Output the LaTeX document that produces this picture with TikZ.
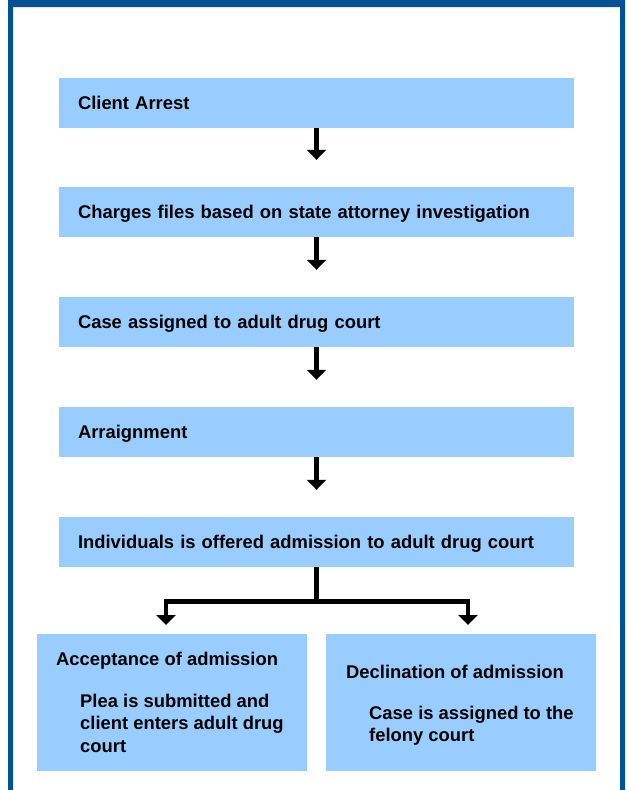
\documentclass[tikz,border=0pt]{standalone}
\usepackage{fontspec}
\setmainfont{Liberation Sans}
\usetikzlibrary{arrows.meta}
\definecolor{framecol}{RGB}{5,81,150}
\definecolor{boxcol}{RGB}{153,204,255}
\begin{document}
\begin{tikzpicture}[x=1pt,y=-1pt,
  every node/.style={font=\bfseries\fontsize{18.4}{22.5}\selectfont},
  stepbox/.style={fill=boxcol, draw=none, minimum width=515pt, minimum height=50pt,
    text width=477pt, inner xsep=19pt, inner ysep=0pt, align=left,
    text height=13.4pt, text depth=0pt},
  bigbox/.style={fill=boxcol, draw=none, minimum width=270pt, minimum height=137pt, inner sep=0pt},
  txt/.style={anchor=base west, inner sep=0pt},
  multi/.style={anchor=north west, inner sep=0pt, align=left},
  arr/.style={line width=4.5pt, -{Triangle[length=10pt,width=19pt]}}]
\useasboundingbox (0,0) rectangle (628,790);
\fill[white] (0,0) rectangle (628,790);
% frame
\fill[framecol, even odd rule] (8,0) rectangle (625,790) (13,7) rectangle (620,790);

% steps
\node[stepbox] (b1) at (316.5,103) {Client Arrest};
\node[stepbox] (b2) at (316.5,212) {Charges files based on state attorney investigation};
\node[stepbox] (b3) at (316.5,322) {Case assigned to adult drug court};
\node[stepbox] (b4) at (316.5,432) {Arraignment};
\node[stepbox] (b5) at (316.5,542) {Individuals is offered admission to adult drug court};

\draw[arr, shorten >=27pt] (b1.south) -- (b2.north);
\draw[arr, shorten >=27pt] (b2.south) -- (b3.north);
\draw[arr, shorten >=27pt] (b3.south) -- (b4.north);
\draw[arr, shorten >=27pt] (b4.south) -- (b5.north);

% outcome boxes
\node[bigbox] (acc) at (172,702.5) {};
\node[bigbox] (dec) at (461,702.5) {};
\node[txt] (acct) at (56,665.7) {Acceptance of admission};
\node[multi] (accs) at (80,693.6) {Plea is submitted and\\client enters adult drug\\court};
\node[txt] (dect) at (346,678.3) {Declination of admission};
\node[multi, font=\bfseries\fontsize{18.4}{22}\selectfont] (decs) at (369,705.9) {Case is assigned to the\\felony court};

% branch
\coordinate (j) at (316.5,601.7);
\coordinate (la) at (166,625);
\coordinate (ra) at (468,625);
\draw[line width=4.5pt] (b5.south) -- (j);
\draw[arr] (j) -| (la);
\draw[arr] (j) -| (ra);
\end{tikzpicture}
\end{document}
